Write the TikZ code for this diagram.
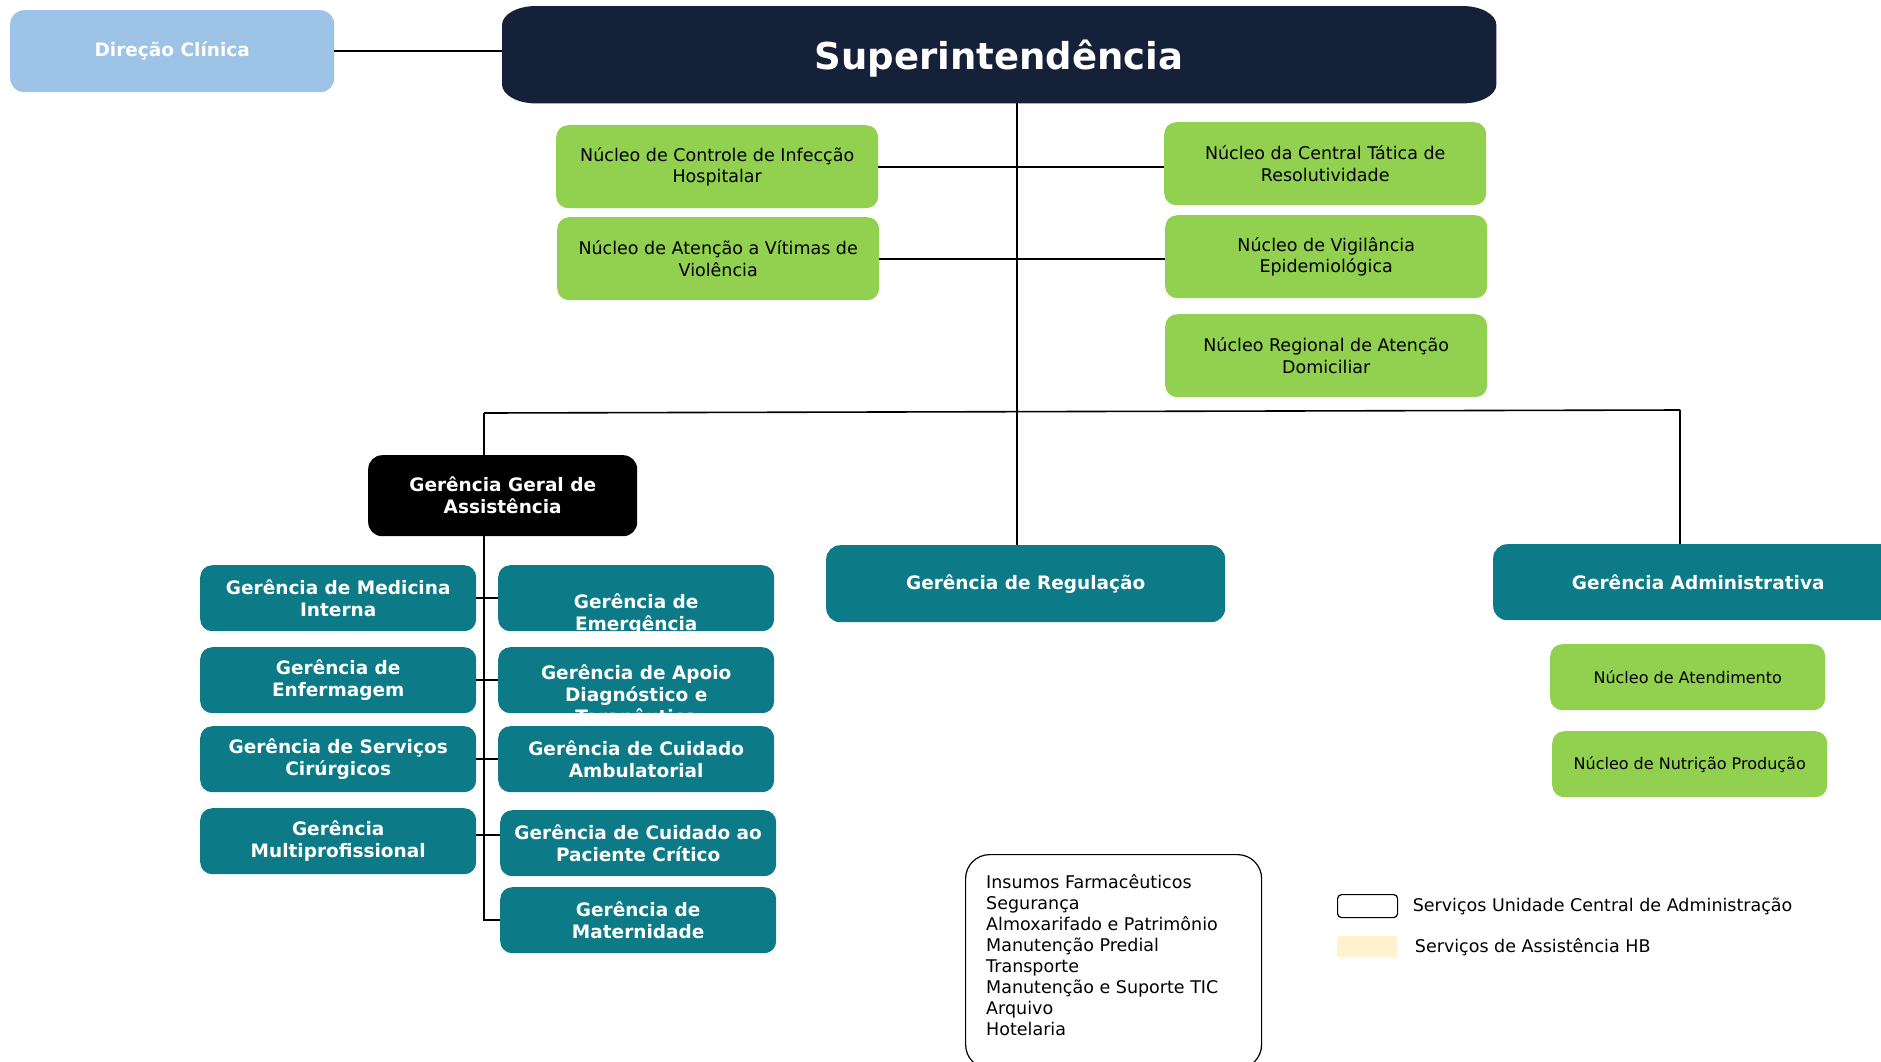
\documentclass[tikz,border=0pt]{standalone}
\usepackage{fontspec}
\setmainfont{DejaVu Sans}
\usetikzlibrary{positioning,backgrounds}
\definecolor{marinho}{HTML}{152039}
\definecolor{petroleo}{HTML}{0D7B87}
\definecolor{verde}{HTML}{92D050}
\definecolor{azulclaro}{HTML}{9DC3E6}
\definecolor{creme}{HTML}{FFF2CC}

\begin{document}
\begin{tikzpicture}[x=1pt,y=-1pt,
    caixa/.style={anchor=north west, inner sep=0pt, align=center, rounded corners=12pt},
    nucleo/.style={caixa, fill=verde, font=\fontsize{17.5}{21.5}\selectfont, minimum width=322, minimum height=83},
    gerencia/.style={caixa, fill=petroleo, text=white, font=\bfseries\fontsize{18.5}{22}\selectfont, minimum width=276, minimum height=66},
    texto/.style={align=center, text=white, font=\bfseries\fontsize{18.5}{22}\selectfont},
    legtexto/.style={font=\fontsize{17.5}{21}\selectfont},
    linha/.style={line width=1.6pt}]
        \useasboundingbox (0,0) rectangle (1881,1061);
        \begin{pgfonlayer}{background}
            \fill[white] (0,0) rectangle (1881,1061);
        \end{pgfonlayer}

        % topo
        \node[caixa, fill=azulclaro, text=white, font=\bfseries\fontsize{18.5}{22}\selectfont,
            minimum width=324, minimum height=82, rounded corners=14pt] (direcao) at (10,10) {Direção Clínica};
        \node[anchor=north west, minimum width=994, minimum height=97, inner sep=0pt, text=white, text depth=1pt,
            font=\bfseries\fontsize{37}{44}\selectfont] (super) at (502,6) {Superintendência};
        \begin{pgfonlayer}{background}
            \fill[marinho] ([xshift=34pt]super.north west) -- ([xshift=-34pt]super.north east)
                arc[start angle=90, end angle=0, x radius=34pt, y radius=19pt]
                -- ([yshift=19pt]super.south east)
                arc[start angle=0, end angle=-90, x radius=34pt, y radius=19pt]
                -- ([xshift=34pt]super.south west)
                arc[start angle=270, end angle=180, x radius=34pt, y radius=19pt]
                -- ([yshift=-19pt]super.north west)
                arc[start angle=180, end angle=90, x radius=34pt, y radius=19pt] -- cycle;
        \end{pgfonlayer}

        % nucleos
        \node[nucleo] (infeccao) at (556,125) {Núcleo de Controle de Infecção\\Hospitalar};
        \node[nucleo] (violencia) at (557,217) {Núcleo de Atenção a Vítimas de\\Violência};
        \node[nucleo] (central) at (1164,122) {Núcleo da Central Tática de\\Resolutividade};
        \node[nucleo] (vigilancia) at (1165,215) {Núcleo de Vigilância\\Epidemiológica};
        \node[nucleo] (domiciliar) at (1165,314) {Núcleo Regional de Atenção\\Domiciliar};

        % gerencias
        \node[caixa, fill=black, text=white, font=\bfseries\fontsize{18.5}{22}\selectfont,
            minimum width=269, minimum height=81, rounded corners=14pt] (geral) at (368,455) {Gerência Geral de\\Assistência};
        \node[gerencia, minimum width=399, minimum height=77, rounded corners=14pt] (regulacao) at (826,545) {Gerência de Regulação};
        \node[gerencia, minimum width=410, minimum height=76, rounded corners=14pt] (administrativa) at (1493,544) {Gerência Administrativa};
        \node[nucleo, font=\fontsize{16}{20}\selectfont, minimum width=275, minimum height=66] (atendimento) at (1550,644) {Núcleo de Atendimento};
        \node[nucleo, font=\fontsize{16}{20}\selectfont, minimum width=275, minimum height=66] (nutricao) at (1552,731) {Núcleo de Nutrição Produção};

        \node[gerencia] (medicina) at (200,565) {Gerência de Medicina\\Interna};
        \node[gerencia] (enfermagem) at (200,647) {Gerência de\\Enfermagem};
        \node[gerencia] (cirurgicos) at (200,726) {Gerência de Serviços\\Cirúrgicos};
        \node[gerencia] (multi) at (200,808) {Gerência\\Multiprofissional};
        \node[gerencia] (emergencia) at (498,565) {};
        \node[texto] (emergenciatxt) at ([yshift=-16pt]emergencia.center) {Gerência de\\Emergência};
        \node[gerencia] (apoio) at (498,647) {};
        \node[texto] (apoiotxt) at ([yshift=-16pt]apoio.center) {Gerência de Apoio\\Diagnóstico e\\Terapêutica};
        \node[gerencia] (ambulatorial) at (498,726) {Gerência de Cuidado\\Ambulatorial};
        \node[gerencia] (critico) at (500,810) {Gerência de Cuidado ao\\Paciente Crítico};
        \node[gerencia] (maternidade) at (500,887) {Gerência de\\Maternidade};

        % servicos e legenda
        \node[caixa, draw=black, line width=1.2pt, fill=white, minimum width=296, minimum height=214,
            rounded corners=24pt] (insumos) at (965,854) {};
        \node[legtexto, anchor=north west, align=left, inner sep=0pt] (insumostxt) at (986,874)
            {Insumos Farmacêuticos\\Segurança\\Almoxarifado e Patrimônio\\Manutenção Predial\\Transporte\\Manutenção e Suporte TIC\\Arquivo\\Hotelaria};
        \node[caixa, draw=black, line width=1.2pt, minimum width=60, minimum height=23, rounded corners=4pt] (legbranco) at (1337,894) {};
        \node[legtexto, right=11pt of legbranco] (legbrancotxt) {Serviços Unidade Central de Administração};
        \node[caixa, fill=creme, minimum width=60, minimum height=21, rounded corners=2pt] (legcreme) at (1337,936) {};
        \node[legtexto, right=14pt of legcreme] (legcremetxt) {Serviços de Assistência HB};

        % ligacoes
        \draw[linha] (direcao.east) -- (direcao.east -| super.west);
        \coordinate (eixo) at (1017,103);
        \draw[linha] (eixo) -- (eixo |- regulacao.north);
        \draw[linha] (infeccao.east) -- (infeccao.east -| central.west);
        \draw[linha] (violencia.east) -- (violencia.east -| vigilancia.west);
        \coordinate (barraE) at (484,413);
        \coordinate (barraD) at (1680,410);
        \draw[linha] (barraE) -- (barraD);
        \draw[linha] (barraE) -- (barraE |- geral.north);
        \draw[linha] (barraD) -- (barraD |- administrativa.north);
        \draw[linha] (barraE |- geral.south) |- (maternidade.west);
        \draw[linha] (medicina.east) -- (emergencia.west);
        \draw[linha] (enfermagem.east) -- (apoio.west);
        \draw[linha] (cirurgicos.east) -- (ambulatorial.west);
        \draw[linha] ([yshift=6pt]multi.east) -- ([yshift=6pt]multi.east -| critico.west);
    \end{tikzpicture}
\end{document}
